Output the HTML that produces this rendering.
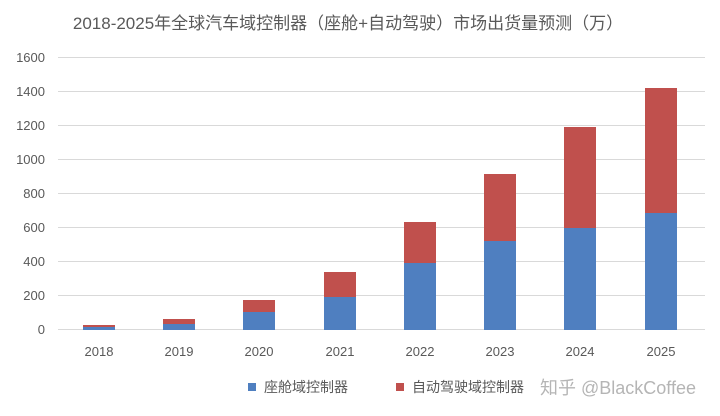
<!DOCTYPE html>
<html><head><meta charset="utf-8"><style>
html,body{margin:0;padding:0;background:#fff;}
svg{display:block;font-family:"Liberation Sans","Noto Sans CJK SC",sans-serif;}
</style></head><body>
<svg width="720" height="416" viewBox="0 0 720 416" xmlns="http://www.w3.org/2000/svg">
<rect width="720" height="416" fill="#fff"/>
<text x="348" y="29" text-anchor="middle" font-size="17" fill="#595959">2018-2025年全球汽车域控制器（座舱+自动驾驶）市场出货量预测（万）</text>
<g stroke="#d9d9d9" stroke-width="1">
<line x1="58" x2="705" y1="57.5" y2="57.5"/>
<line x1="58" x2="705" y1="91.5" y2="91.5"/>
<line x1="58" x2="705" y1="125.5" y2="125.5"/>
<line x1="58" x2="705" y1="159.5" y2="159.5"/>
<line x1="58" x2="705" y1="193.5" y2="193.5"/>
<line x1="58" x2="705" y1="227.5" y2="227.5"/>
<line x1="58" x2="705" y1="261.5" y2="261.5"/>
<line x1="58" x2="705" y1="295.5" y2="295.5"/>
<line x1="58" x2="705" y1="329.5" y2="329.5"/>
</g>
<g font-size="13" fill="#595959" text-anchor="end">
<text x="45" y="62">1600</text><text x="45" y="96">1400</text><text x="45" y="130">1200</text>
<text x="45" y="164">1000</text><text x="45" y="198">800</text><text x="45" y="232">600</text>
<text x="45" y="266">400</text><text x="45" y="300">200</text><text x="45" y="334">0</text>
</g>
<g>
<rect x="83" y="327" width="32" height="3" fill="#4f7fc0"/><rect x="83" y="325" width="32" height="2" fill="#c0504d"/>
<rect x="163" y="324" width="32" height="6" fill="#4f7fc0"/><rect x="163" y="319" width="32" height="5" fill="#c0504d"/>
<rect x="243" y="312" width="32" height="18" fill="#4f7fc0"/><rect x="243" y="300" width="32" height="12" fill="#c0504d"/>
<rect x="324" y="297" width="32" height="33" fill="#4f7fc0"/><rect x="324" y="272" width="32" height="25" fill="#c0504d"/>
<rect x="404" y="263" width="32" height="67" fill="#4f7fc0"/><rect x="404" y="222" width="32" height="41" fill="#c0504d"/>
<rect x="484" y="241" width="32" height="89" fill="#4f7fc0"/><rect x="484" y="174" width="32" height="67" fill="#c0504d"/>
<rect x="564" y="228" width="32" height="102" fill="#4f7fc0"/><rect x="564" y="127" width="32" height="101" fill="#c0504d"/>
<rect x="645" y="213" width="32" height="117" fill="#4f7fc0"/><rect x="645" y="88" width="32" height="125" fill="#c0504d"/>
</g>
<g font-size="13" fill="#595959" text-anchor="middle">
<text x="99" y="356">2018</text><text x="179" y="356">2019</text><text x="259" y="356">2020</text>
<text x="340" y="356">2021</text><text x="420" y="356">2022</text><text x="500" y="356">2023</text>
<text x="580" y="356">2024</text><text x="661" y="356">2025</text>
</g>
<rect x="248" y="383" width="8" height="8" fill="#4f7fc0"/>
<text x="264" y="392" font-size="14" fill="#595959">座舱域控制器</text>
<rect x="396" y="383" width="8" height="8" fill="#c0504d"/>
<text x="412" y="392" font-size="14" fill="#595959">自动驾驶域控制器</text>
<text x="540" y="394" font-size="18" fill="#b5b5b5">知乎 @BlackCoffee</text>
</svg>
</body></html>
